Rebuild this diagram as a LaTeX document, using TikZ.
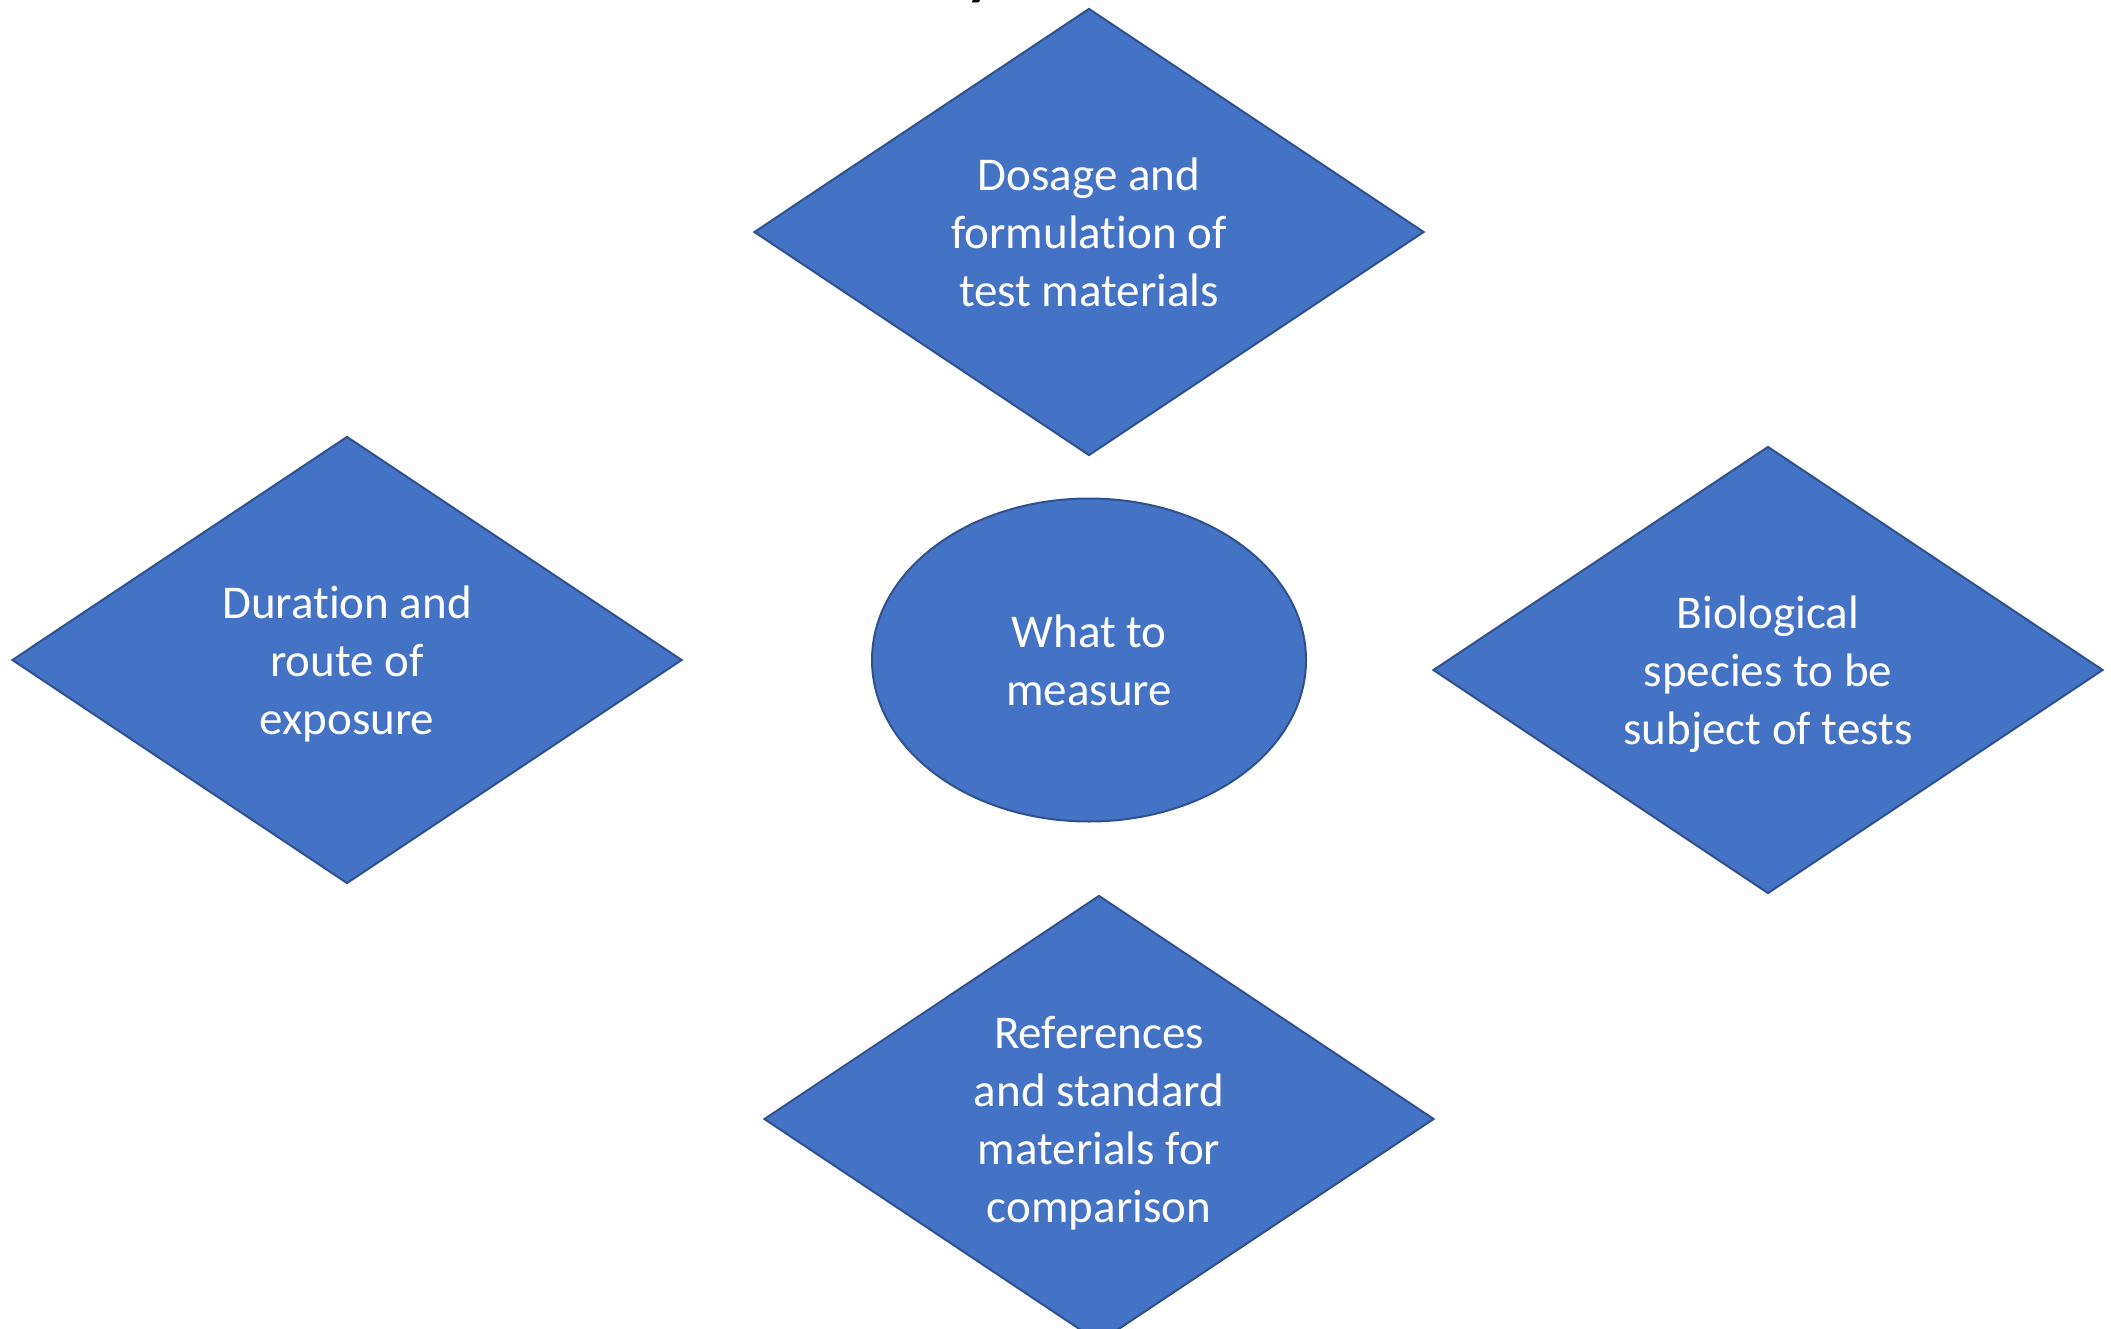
\documentclass[tikz,border=0pt]{standalone}
\usepackage{fontspec}
\setmainfont[Ligatures=NoCommon]{Carlito}
\usetikzlibrary{shapes.geometric}
\definecolor{boxfill}{HTML}{4472C4}
\definecolor{boxline}{HTML}{2F528F}
\tikzset{
  % no depth below the last line, so descenders do not move the text
  shapetext/.style={text=white, align=center, font=\fontsize{47}{58}\selectfont, text depth=0pt},
  factor/.style={diamond, aspect=1.5, draw=boxline, fill=boxfill, line width=2pt,
    minimum width=670pt, minimum height=447pt, inner sep=0pt, shapetext},
  hub/.style={ellipse, draw=boxline, fill=boxfill, line width=2pt,
    minimum width=434pt, minimum height=323pt, inner sep=0pt, shapetext}
}
\begin{document}
\begin{tikzpicture}[x=1pt,y=-1pt]
  \clip (0,0) rectangle (2111,1328);
  \fill[white] (0,0) rectangle (2111,1328);
  % tail of the heading above the page edge
  \node[anchor=base west, inner sep=0pt, font=\bfseries\fontsize{60}{72}\selectfont] (headtail) at (966,-7) {y};
  % four factors round the centre
  \node[factor] (dosage) at (1089,232) {Dosage and\\formulation of\\test materials};
  \node[factor] (duration) at (347,660) {Duration and\\route of\\exposure};
  \node[factor] (species) at (1768,670) {Biological\\species to be\\subject of tests};
  \node[factor] (refs) at (1099,1119) {References\\and standard\\materials for\\comparison};
  \node[hub] (measure) at (1089,660) {What to\\measure};
\end{tikzpicture}
\end{document}
